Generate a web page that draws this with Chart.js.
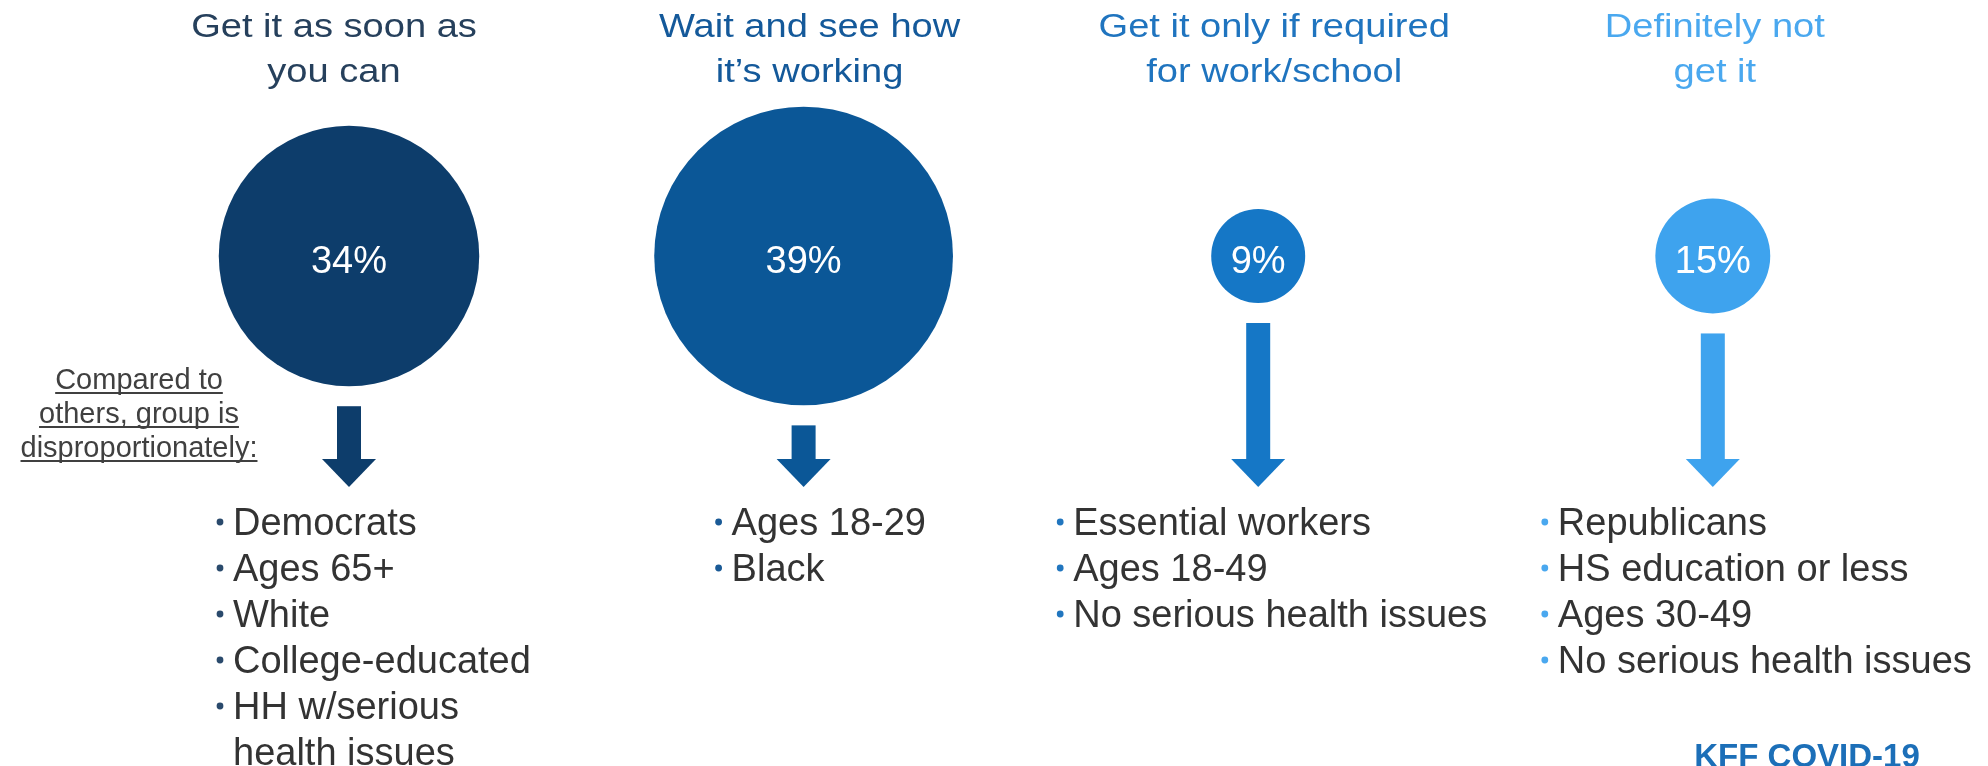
<!DOCTYPE html>
<html>
<head>
<meta charset="utf-8">
<script src="https://cdn.jsdelivr.net/npm/chart.js@4.4.0/dist/chart.umd.min.js"></script>
<style>
  html, body { margin: 0; padding: 0; background: #ffffff; }
  #wrap { width: 1988px; height: 766px; }
</style>
</head>
<body>
<div id="wrap"><canvas id="vaccineChart" width="1988" height="766"></canvas></div>
<script>
// Survey answers (column titles, two lines each)
const answerTitles = [
    ['Get it as soon as', 'you can'],
    ['Wait and see how', 'it\u2019s working'],
    ['Get it only if required', 'for work/school'],
    ['Definitely not', 'get it']
];

// Share of respondents, percent
const answerShares = [34, 39, 9, 15];

// Groups over-represented in each answer
const groupsSoon = ['Democrats', 'Ages 65+', 'White', 'College-educated', 'HH w/serious', 'health issues'];
const groupsWait = ['Ages 18-29', 'Black'];
const groupsRequired = ['Essential workers', 'Ages 18-49', 'No serious health issues'];
const groupsNot = ['Republicans', 'HS education or less', 'Ages 30-49', 'No serious health issues'];
const groupLists = [groupsSoon, groupsWait, groupsRequired, groupsNot];

// bullets only on the first line of wrapped items
const continuationLines = ['health issues'];

const sideNote = ['Compared to', 'others, group is', 'disproportionately:'];
const footerText = 'KFF COVID-19';

// Colours, one per answer
const circleColors = ['#0d3d6b', '#0b5797', '#1577c6', '#3ea3ee'];
const titleColors = ['#26405c', '#14599a', '#1f74bf', '#4aa8ef'];
const bulletColors = ['#2a4a6c', '#1a5a96', '#2176bf', '#4aa8ef'];

const FONT = '"Liberation Sans", Arial, Helvetica, sans-serif';

// Layout offsets relative to each column centre
const titleOffsets = [-15, 6, 16, 2];
const listOffsets = [-116, -72, -185, -155];

const W = 1988, H = 766;

function bubbleRadius(value) {
    // small bubbles keep a minimum size so the label fits
    return Math.max(value * 3.83, 47);
}

// Chart.js insets the chart area by the largest bubble radius,
// so work out the axis ranges from that inset.
const inset = Math.max(...answerShares.map(bubbleRadius));
const colStep = 454.6;      // px between columns
const firstCol = 349;       // px, centre of first column
const rowY = 256;           // px, centre line of the bubbles
const xMin = -(firstCol - inset) / colStep;
const xMax = xMin + (W - 2 * inset) / colStep;
const yMin = -1;
const yFrac = (rowY - inset) / (H - 2 * inset);
const yMax = yFrac / (1 - yFrac);

function scaledText(ctx, text, x, y, sx, align) {
    ctx.save();
    ctx.translate(x, y);
    ctx.scale(sx, 1);
    ctx.textAlign = align;
    ctx.fillText(text, 0, 0);
    ctx.restore();
}

const annotationPlugin = {
    id: 'annotations',
    afterDatasetsDraw(chart) {
        const ctx = chart.ctx;
        const meta = chart.getDatasetMeta(0);

        meta.data.forEach((pt, i) => {
            const cx = pt.x;
            const cy = pt.y;
            const r = bubbleRadius(answerShares[i]);

            // percent label
            ctx.save();
            ctx.fillStyle = '#ffffff';
            ctx.font = '38px ' + FONT;
            ctx.textAlign = 'center';
            ctx.textBaseline = 'middle';
            ctx.fillText(answerShares[i] + '%', cx, cy + 7);
            ctx.restore();

            // title
            ctx.save();
            ctx.fillStyle = titleColors[i];
            ctx.font = '34px ' + FONT;
            ctx.textBaseline = 'alphabetic';
            scaledText(ctx, answerTitles[i][0], cx + titleOffsets[i], 37, 1.12, 'center');
            scaledText(ctx, answerTitles[i][1], cx + titleOffsets[i], 82, 1.12, 'center');
            ctx.restore();

            // arrow
            const top = cy + r + 20;
            const headStart = 459;
            const tip = 487;
            ctx.save();
            ctx.fillStyle = circleColors[i];
            ctx.fillRect(cx - 12, top, 24, headStart - top + 1);
            ctx.beginPath();
            ctx.moveTo(cx - 27, headStart);
            ctx.lineTo(cx + 27, headStart);
            ctx.lineTo(cx, tip);
            ctx.closePath();
            ctx.fill();
            ctx.restore();

            // bullet list
            const left = cx + listOffsets[i];
            ctx.save();
            ctx.font = '38px ' + FONT;
            ctx.textAlign = 'left';
            ctx.textBaseline = 'alphabetic';
            groupLists[i].forEach((item, j) => {
                const base = 535 + j * 46;
                ctx.fillStyle = '#333333';
                ctx.fillText(item, left, base);
                if (!continuationLines.includes(item)) {
                    ctx.fillStyle = bulletColors[i];
                    ctx.beginPath();
                    ctx.arc(left - 13, base - 13, 3.4, 0, Math.PI * 2);
                    ctx.fill();
                }
            });
            ctx.restore();
        });

        // side note, underlined
        ctx.save();
        ctx.font = '29px ' + FONT;
        ctx.fillStyle = '#404040';
        ctx.strokeStyle = '#404040';
        ctx.lineWidth = 2;
        ctx.textAlign = 'center';
        sideNote.forEach((line, j) => {
            const base = 389 + j * 34;
            ctx.fillText(line, 139, base);
            const w = ctx.measureText(line).width;
            ctx.beginPath();
            ctx.moveTo(139 - w / 2, base + 4);
            ctx.lineTo(139 + w / 2, base + 4);
            ctx.stroke();
        });
        ctx.restore();

        // footer
        ctx.save();
        ctx.font = 'bold 33px ' + FONT;
        ctx.fillStyle = '#1c6fb8';
        ctx.textAlign = 'center';
        ctx.fillText(footerText, 1807, 767);
        ctx.restore();
    }
};

new Chart(document.getElementById('vaccineChart'), {
    type: 'bubble',
    data: {
        datasets: [{
            data: answerShares.map((v, i) => ({ x: i, y: 0, r: bubbleRadius(v) })),
            backgroundColor: circleColors,
            borderWidth: 0,
            hoverRadius: 0,
            clip: false
        }]
    },
    options: {
        responsive: false,
        devicePixelRatio: 1,
        animation: false,
        events: [],
        layout: { padding: 0 },
        plugins: {
            legend: { display: false },
            tooltip: { enabled: false }
        },
        scales: {
            x: { type: 'linear', min: xMin, max: xMax, display: false },
            y: { type: 'linear', min: yMin, max: yMax, display: false }
        }
    },
    plugins: [annotationPlugin]
});
</script>
</body>
</html>
